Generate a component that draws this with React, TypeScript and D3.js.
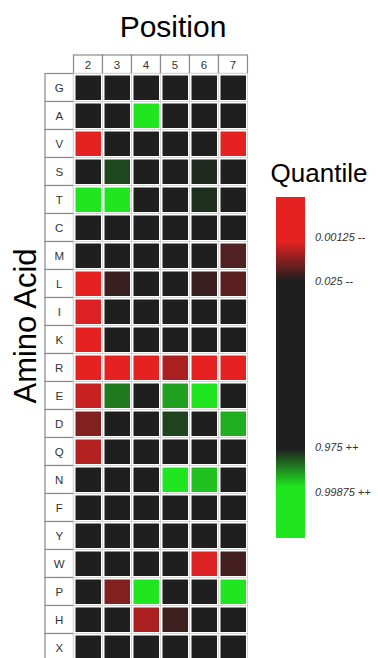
import React from "react";
import * as d3 from "d3";

const positions = ["2", "3", "4", "5", "6", "7"];
const aminoAcids = ["G", "A", "V", "S", "T", "C", "M", "L", "I", "K", "R", "E", "D", "Q", "N", "F", "Y", "W", "P", "H", "X"];
// score: -1 = strongly depleted (red), 0 = neutral (dark), +1 = strongly enriched (green)
const scores: number[][] = [
  [0, 0, 0, 0, 0, 0], // G
  [0, 0, 1, 0, 0, 0], // A
  [-1, 0, 0, 0, 0, -1], // V
  [0, 0.2, 0, 0, 0.05, 0], // S
  [1, 1, 0, 0, 0.08, 0], // T
  [0, 0, 0, 0, 0, 0], // C
  [0, 0, 0, 0, 0, -0.25], // M
  [-1, -0.13, 0, 0, -0.13, -0.3], // L
  [-0.95, 0, 0, 0, 0, 0], // I
  [-1, 0, 0, 0, 0, 0], // K
  [-1, -1, -1, -0.7, -1, -1], // R
  [-0.85, 0.45, 0, 0.65, 1, 0], // E
  [-0.5, 0, 0, 0.18, 0, 0.72], // D
  [-0.75, 0, 0, 0, 0, 0], // Q
  [0, 0, 0, 1, 0.82, 0], // N
  [0, 0, 0, 0, 0, 0], // F
  [0, 0, 0, 0, 0, 0], // Y
  [0, 0, 0, 0, -0.95, -0.18], // W
  [0, -0.5, 1, 0, 0, 1], // P
  [0, 0, -0.7, -0.15, 0, 0], // H
  [0, 0, 0, 0, 0, 0], // X
];
const legendLabels = ["0.00125 --", "0.025 --", "0.975 ++", "0.99875 ++"];
const legendLabelPos = [0.117, 0.246, 0.733, 0.865];
const legendStops = [
  { offset: 0, score: -1 },
  { offset: 0.13, score: -1 },
  { offset: 0.245, score: 0 },
  { offset: 0.74, score: 0 },
  { offset: 0.85, score: 1 },
  { offset: 1, score: 1 },
];

const RED = "#e52121";
const DARK = "#1f1f1f";
const GREEN = "#1fe61f";
const color = (s: number) =>
  s < 0 ? d3.interpolateRgb(DARK, RED)(-s) : d3.interpolateRgb(DARK, GREEN)(s);

export default function App() {
  const W = 378, H = 658;
  const gridLeft = 73.5, gridTop = 73.5, cellW = 29, cellH = 28;
  const x = d3.scaleBand<string>().domain(positions).range([gridLeft, gridLeft + cellW * positions.length]);
  const y = d3.scaleBand<string>().domain(aminoAcids).range([gridTop, gridTop + cellH * aminoAcids.length]);
  const labelLeft = 45;
  const headerTop = 55;
  const font = "'Liberation Sans', Arial, sans-serif";
  const gridRight = gridLeft + cellW * positions.length;
  const gridBottom = gridTop + cellH * aminoAcids.length;

  const barX = 276, barW = 29, barTop = 197, barH = 341;
  const ly = d3.scaleLinear().domain([0, 1]).range([barTop, barTop + barH]);

  return (
    <svg width={W} height={H} style={{ position: "absolute", left: 0, top: 0, background: "#fff" }}>
      <defs>
        <linearGradient id="qgrad" x1="0" y1="0" x2="0" y2="1">
          {legendStops.map((s, i) => (
            <stop key={i} offset={s.offset} stopColor={color(s.score)} />
          ))}
        </linearGradient>
      </defs>
      <rect x={0} y={0} width={W} height={H} fill="#fff" />
      <text x={173} y={37} fontSize={30} fontFamily={font} textAnchor="middle" fill="#000">Position</text>
      <text transform={`translate(36,326) rotate(-90)`} fontSize={31} fontFamily={font} textAnchor="middle" fill="#000">Amino Acid</text>

      {/* header */}
      {positions.map((p) => (
        <g key={p}>
          <rect x={x(p)!} y={headerTop} width={x.bandwidth()} height={gridTop - headerTop} fill="#fff" stroke="#8a8a8a" strokeWidth={1.2} />
          <text x={x(p)! + x.bandwidth() / 2} y={headerTop + 13.5} fontSize={11.5} fontFamily={font} textAnchor="middle" fill="#333">{p}</text>
        </g>
      ))}
      {/* row labels */}
      {aminoAcids.map((a) => (
        <g key={a}>
          <rect x={labelLeft} y={y(a)!} width={gridLeft - labelLeft} height={y.bandwidth()} fill="#fff" stroke="#8a8a8a" strokeWidth={1.2} />
          <text x={(labelLeft + gridLeft) / 2} y={y(a)! + y.bandwidth() / 2 + 4} fontSize={11.5} fontFamily={font} textAnchor="middle" fill="#333">{a}</text>
        </g>
      ))}
      {/* grid */}
      <rect x={gridLeft} y={gridTop} width={gridRight - gridLeft} height={gridBottom - gridTop} fill="#fff" />
      {aminoAcids.map((a, i) =>
        positions.map((p, j) => (
          <rect key={a + p} x={x(p)! + 2} y={y(a)! + 2} width={x.bandwidth() - 3.5} height={y.bandwidth() - 3.5} fill={color(scores[i][j])} />
        ))
      )}
      {positions.map((p) => (
        <line key={"v" + p} x1={x(p)!} x2={x(p)!} y1={gridTop} y2={gridBottom} stroke="#d4d4d4" strokeWidth={1} />
      ))}
      <line x1={gridRight} x2={gridRight} y1={gridTop} y2={gridBottom} stroke="#d4d4d4" strokeWidth={1} />
      {aminoAcids.map((a) => (
        <line key={"h" + a} x1={gridLeft} x2={gridRight} y1={y(a)!} y2={y(a)!} stroke="#d4d4d4" strokeWidth={1} />
      ))}

      {/* legend */}
      <text x={319} y={182} fontSize={26} fontFamily={font} textAnchor="middle" fill="#000">Quantile</text>
      <rect x={barX} y={barTop} width={barW} height={barH} fill="url(#qgrad)" />
      {legendLabels.map((l, i) => (
        <text key={l} x={315} y={ly(legendLabelPos[i]) + 4} fontSize={11} fontStyle="italic" fontFamily={font} fill="#333">{l}</text>
      ))}
    </svg>
  );
}
